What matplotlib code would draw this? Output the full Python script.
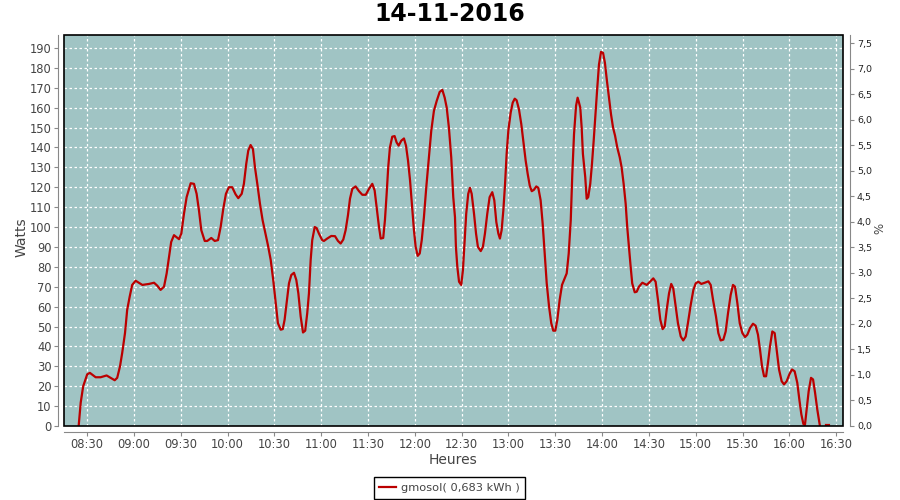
import numpy as np
import matplotlib
matplotlib.use("Agg")
from matplotlib import pyplot as plt
from matplotlib.patches import Rectangle

# minutes after 08:00 and power in W
minutes = [24.5, 25.8, 27.4, 30.0, 31.7, 35.4, 38.6, 42.4, 45.0, 47.6,
           49.2, 51.0, 52.4, 54.2, 55.6, 57.2, 58.8, 61.0, 65.3, 69.6,
           72.8, 74.9, 77.0, 79.2, 80.9, 82.4, 83.8, 85.6, 88.8, 90.3,
           92.0, 93.7, 96.3, 98.4, 100.1, 101.6, 103.1, 105.3, 106.9, 109.5,
           111.7, 113.8, 115.5, 117.2, 118.9, 120.8, 122.9, 125.1, 126.8, 129.0,
           130.4, 131.9, 133.2, 134.7, 136.2, 137.5, 139.0, 140.7, 142.4, 144.4,
           145.8, 147.6, 149.2, 150.8, 152.2, 154.0, 155.3, 156.5, 157.8, 159.3,
           160.8, 162.5, 164.0, 165.3, 166.8, 168.3, 169.7, 171.0, 172.1, 173.2,
           174.2, 175.8, 177.0, 178.5, 180.6, 181.7, 183.8, 186.4, 188.8, 190.7,
           192.4, 194.1, 195.6, 197.1, 198.4, 199.9, 202.0, 204.2, 206.3, 208.5,
           210.6, 212.7, 214.2, 215.5, 217.0, 218.1, 219.7, 220.8, 221.9, 222.9,
           224.0, 225.5, 227.0, 228.3, 229.6, 231.3, 233.0, 234.3, 235.6, 236.9,
           238.1, 239.4, 240.5, 241.8, 243.1, 244.4, 245.8, 247.3, 249.0, 250.5,
           252.2, 254.0, 255.9, 257.6, 259.1, 260.4, 261.8, 263.3, 264.6, 265.7,
           266.3, 267.2, 268.3, 269.7, 270.8, 271.9, 272.9, 274.2, 275.3, 276.4,
           277.9, 279.2, 280.4, 282.2, 283.6, 284.9, 286.4, 287.9, 289.6, 290.9,
           292.2, 293.5, 294.5, 295.6, 296.7, 297.8, 298.8, 299.9, 301.4, 302.7,
           304.0, 305.2, 306.7, 308.2, 309.7, 311.0, 312.3, 313.6, 314.9, 316.3,
           317.8, 319.1, 320.6, 321.9, 323.2, 324.5, 326.0, 327.4, 328.7, 330.0,
           331.3, 332.8, 334.3, 336.0, 337.3, 338.6, 339.9, 340.9, 342.0, 343.3,
           344.3, 345.2, 346.0, 346.9, 347.7, 349.2, 350.1, 351.1, 352.4, 353.5,
           354.6, 355.6, 356.9, 358.0, 359.3, 360.6, 361.8, 363.1, 364.4, 365.7,
           367.0, 368.3, 369.7, 371.3, 372.5, 373.8, 375.1, 376.1, 377.2, 378.3,
           379.3, 380.9, 382.2, 383.6, 385.8, 388.6, 390.7, 392.8, 394.3, 395.8,
           397.3, 398.8, 400.1, 401.4, 402.9, 404.3, 405.6, 407.2, 408.6, 410.4,
           412.0, 413.6, 415.0, 416.8, 418.5, 420.0, 421.7, 423.6, 425.8, 428.1,
           429.6, 431.1, 433.0, 434.5, 436.0, 437.7, 439.2, 440.7, 442.4, 443.9,
           445.2, 446.7, 448.2, 449.9, 451.6, 453.1, 454.8, 456.7, 458.4, 459.9,
           461.2, 462.5, 463.8, 465.1, 466.3, 467.6, 469.1, 470.6, 471.9, 473.4,
           475.1, 476.6, 478.3, 480.0, 481.7, 483.4, 485.1, 486.4, 487.7, 489.0,
           490.0, 491.1, 492.4, 493.9, 495.2, 496.5, 497.9, 499.5, 501.5, 503.5,
           505.4]

watts = [0, 11.7, 20, 26, 26.7, 24.5, 24.5, 25.4, 24.2, 23,
         24.2, 30, 36.7, 46.7, 58.4, 65, 70.9, 73, 70.9, 71.4,
         72, 70.5, 68.4, 70, 76.7, 85, 92.5, 95.9, 93.9, 96.7,
         106.7, 115, 122, 121.7, 116.7, 108.4, 98.4, 93, 93, 94.5,
         93, 93.4, 100, 109.2, 116.7, 120, 120, 116.4, 114.5, 116.7,
         121.7, 131.7, 138.4, 141.2, 139.2, 130, 121.7, 111.7, 103.4, 95.9,
         90.9, 83.4, 73.4, 61.7, 51.7, 48.4, 48.7, 53.4, 61.7, 71.7,
         75.9, 77, 73.4, 66.7, 55, 47, 47.9, 56.7, 66.7, 83.4,
         93.4, 100, 99.5, 96.7, 93.4, 93, 94.2, 95.5, 95.4, 93,
         91.7, 93.7, 98.4, 105.9, 114.2, 119.2, 120.4, 118, 116.2, 116.2,
         119.2, 121.7, 118.4, 110, 100, 94.2, 94.5, 103.4, 116.7, 130,
         140, 145.4, 145.7, 142.5, 140.9, 143.4, 144.5, 140.9, 133.4, 123.4,
         111.7, 98.4, 90, 85.5, 86.7, 93.4, 105, 120, 135, 148.4,
         158.4, 163.4, 167.9, 168.9, 165, 160, 150, 135, 115, 105,
         90, 80, 72.5, 70.9, 78.4, 93.4, 106.7, 116.7, 119.7, 116.7,
         106.7, 96.7, 90, 87.9, 90, 96.7, 106.7, 115, 117.5, 113.4,
         102.5, 96.7, 94.2, 98.4, 108.4, 121.7, 136.7, 148.4, 157.5, 162.5,
         164.5, 163.7, 159.2, 151.7, 141.7, 133.4, 126.7, 120.9, 118, 118.7,
         120.4, 119.7, 113.4, 101.7, 86.7, 71.7, 60, 51.7, 47.9, 47.9,
         53.4, 63.4, 70.9, 74.2, 76.7, 86.7, 103.4, 126.7, 146.7, 160.9,
         165, 162.5, 160, 150, 136.7, 125, 114.2, 115, 121.7, 131.7,
         143.4, 155, 170, 181.7, 188, 187.5, 182.5, 173.4, 165, 156.7,
         150, 145.9, 140, 135, 130, 121.7, 111.7, 100, 90, 80,
         71.7, 67.2, 67.5, 70, 72, 70.9, 72.5, 74.2, 72.5, 63.4,
         53.4, 48.7, 50, 58.4, 66.7, 71.4, 69.2, 60, 51.7, 45,
         43, 45, 51.7, 60.9, 68.4, 71.7, 72.5, 71.4, 72, 72.7,
         70.9, 63.4, 55, 46.7, 43, 43.4, 47.5, 56.7, 65.9, 70.9,
         70, 61.7, 51.7, 46.7, 44.7, 45.9, 49.2, 51.4, 50.4, 45.9,
         38.4, 30, 25, 25, 31.7, 40, 47.5, 46.7, 38.4, 28.4,
         22.5, 20.9, 22.5, 25.9, 28.4, 27.5, 21.7, 13.4, 5.9, 1,
         0.5, 8.4, 17.5, 24.2, 23.4, 16.7, 8.4, 0.5, np.nan, 0.5,
         0.5]

hour_labels = ["08:30", "09:00", "09:30", "10:00", "10:30", "11:00", "11:30",
               "12:00", "12:30", "13:00", "13:30", "14:00", "14:30", "15:00",
               "15:30", "16:00", "16:30"]
watt_ticks = list(range(0, 200, 10))
pct_ticks = [0.0, 0.5, 1.0, 1.5, 2.0, 2.5, 3.0, 3.5, 4.0, 4.5, 5.0, 5.5, 6.0, 6.5, 7.0, 7.5]
series_name = "gmosol( 0,683 kWh )"

txt = "#444444"
axis_grey = "#888888"

fig = plt.figure(figsize=(9, 5), dpi=100)
ax = fig.add_axes([64 / 900, 1 - 426 / 500, 779 / 900, 391 / 500])
ax.set_facecolor("#a0c4c4")

x = 480 + np.array(minutes)
line, = ax.plot(x, watts, color="#bb0000", lw=1.6, label=series_name, zorder=3)

tick_pos = [510 + 30 * i for i in range(len(hour_labels))]
ax.set_xticks(tick_pos)
ax.set_xticklabels(hour_labels)
ax.set_xlim(495.1, 994.4)
ax.set_yticks(watt_ticks)
ax.set_ylim(0, 196.5)

ax.grid(True, color="white", linestyle=(0, (2, 2)), linewidth=0.9)
ax.set_axisbelow(True)

for s in ["top", "right"]:
    ax.spines[s].set_visible(False)
for s in ["left", "bottom"]:
    ax.spines[s].set_position(("outward", 4))
    ax.spines[s].set_color(axis_grey)
ax.tick_params(direction="out", length=3, color=axis_grey, labelcolor=txt, labelsize=8.3, pad=2)

# black plot border
ax.add_patch(Rectangle((0, 0), 1, 1, transform=ax.transAxes, fill=False,
                       edgecolor="black", lw=1.2, clip_on=False, zorder=4))

ax2 = ax.twinx()
ax2.set_ylim(0, 7.66)
ax2.set_yticks(pct_ticks)
ax2.set_yticklabels([f"{p:.1f}".replace(".", ",") for p in pct_ticks])
for s in ["top", "left", "bottom"]:
    ax2.spines[s].set_visible(False)
ax2.spines["right"].set_position(("outward", 5))
ax2.spines["right"].set_color(axis_grey)
ax2.tick_params(direction="out", length=3, color=axis_grey, labelcolor="#222222", labelsize=6.8, pad=2)

fig.text(0.5, 1 - 14 / 500, "14-11-2016", ha="center", va="center",
         fontsize=17, fontweight="bold", color="black")
fig.text(22 / 900, 1 - 237 / 500, "Watts", rotation=90, ha="center", va="center",
         fontsize=10, color=txt)
fig.text(453 / 900, 1 - 460 / 500, "Heures", ha="center", va="center",
         fontsize=10, color=txt)
fig.text(880 / 900, 1 - 228 / 500, "%", rotation=90, ha="center", va="center",
         fontsize=8.5, color=txt)

leg = fig.legend(handles=[line], loc="center", bbox_to_anchor=(449.5 / 900, 1 - 488 / 500),
                 fontsize=8.2, frameon=True, fancybox=False, edgecolor="black",
                 framealpha=1, handlelength=1.5, borderpad=0.5, borderaxespad=0,
                 handletextpad=0.4)
leg.get_frame().set_linewidth(1)
for t in leg.get_texts():
    t.set_color(txt)

fig.savefig("out.png", dpi=100)
